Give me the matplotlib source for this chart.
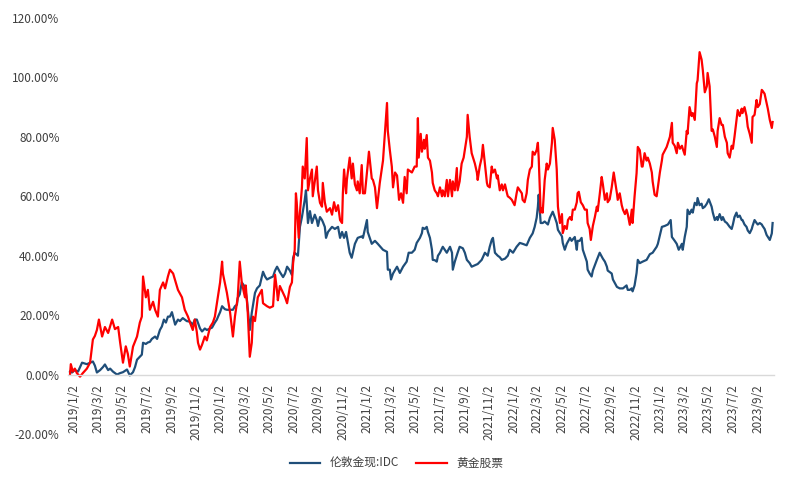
"""London gold spot vs gold equities, cumulative return since 2019/1/2."""

import matplotlib
matplotlib.use("Agg")
import matplotlib.pyplot as plt
import matplotlib.ticker as mticker
import matplotlib.transforms as mtransforms
import pandas as pd

plt.rcParams["font.family"] = ["Noto Sans CJK SC", "DejaVu Sans"]

START = pd.Timestamp("2019-01-02")

# days after START, cumulative return in %
gold_days = [
    0, 5, 12, 20, 30, 42, 57, 62, 67, 75, 82, 87, 95, 100, 107, 117, 125, 132, 142, 149,
    157, 162, 167, 174, 179, 182, 189, 194, 199, 204, 212, 217, 224, 229, 234, 239, 244, 249,
    254, 262, 269, 274, 281, 291, 299, 306, 311, 316, 324, 329, 336, 341, 349, 354, 361, 366,
    369, 374, 379, 386, 391, 399, 406, 411, 416, 418, 423, 428, 436, 441, 448, 453, 461, 466,
    473, 481, 486, 491, 498, 506, 511, 516, 523, 531, 536, 541, 548, 553, 556, 560, 568, 573,
    578, 585, 588, 593, 598, 603, 610, 615, 618, 623, 628, 630, 635, 638, 643, 653, 660, 668,
    673, 678, 683, 688, 693, 697, 702, 710, 717, 727, 730, 740, 742, 747, 752, 760, 767, 780,
    790, 792, 797, 800, 805, 815, 822, 830, 839, 844, 852, 859, 864, 872, 877, 879, 884, 889,
    892, 897, 902, 904, 909, 914, 917, 922, 929, 939, 947, 952, 954, 959, 966, 971, 979, 984,
    989, 996, 1001, 1009, 1016, 1026, 1034, 1041, 1046, 1051, 1054, 1059, 1066, 1071, 1076,
    1084, 1091, 1096, 1104, 1113, 1121, 1128, 1138, 1146, 1153, 1158, 1163, 1166, 1168, 1171,
    1173, 1178, 1183, 1191, 1196, 1203, 1208, 1213, 1216, 1221, 1226, 1228, 1233, 1238, 1246,
    1250, 1258, 1263, 1265, 1270, 1275, 1278, 1283, 1288, 1290, 1295, 1300, 1303, 1313, 1320,
    1328, 1333, 1338, 1340, 1350, 1353, 1363, 1370, 1378, 1387, 1390, 1395, 1400, 1402, 1407,
    1412, 1415, 1420, 1427, 1437, 1445, 1452, 1462, 1465, 1475, 1482, 1490, 1497, 1500, 1507,
    1512, 1517, 1525, 1527, 1532, 1537, 1539, 1544, 1549, 1552, 1557, 1562, 1564, 1569, 1574,
    1577, 1582, 1587, 1592, 1599, 1602, 1607, 1612, 1614, 1619, 1624, 1627, 1632, 1637, 1644,
    1649, 1652, 1656, 1661, 1664, 1669, 1674, 1676, 1681, 1686, 1689, 1694, 1699, 1701, 1706,
    1711, 1714, 1719, 1724, 1726, 1731, 1736, 1744, 1749, 1751,
]
gold_spot = [
    1, 0.7, 1.5, 1, 4, 3.5, 4.4, 3, 0.7, 1.5, 2.5, 3.4, 1.5, 2, 1, 0, 0.5, 0.8, 1.7, -0.3,
    0.8, 2.5, 5, 6, 6.7, 10.7, 10.3, 10.8, 11, 12, 12.8, 12, 15, 16.2, 18.5, 17.5, 19.5, 19.5,
    21, 16.8, 18.5, 18, 19, 18, 17.8, 16.8, 18.5, 18.5, 15.5, 14.5, 15.5, 15, 15.5, 15.8, 17.5, 18.5,
    19.5, 21, 23, 22, 21.8, 21.8, 21.8, 23, 23.5, 25.8, 27, 31, 29.5, 25, 15, 20.8, 27.5, 29,
    30, 34.6, 33, 32, 32.5, 33, 35, 36.3, 34.5, 32.8, 34, 36.3, 35, 33.5, 39.3, 41, 40, 49.7,
    53, 58.8, 62, 51, 55, 51, 53.8, 52, 50, 53, 52, 51.4, 49.7, 46, 48, 49.7, 49, 49.7,
    46, 48, 46, 48, 44, 41, 39.3, 44, 46, 46.5, 46, 52, 48, 46, 44, 45, 44, 42,
    41.3, 35.3, 35.3, 32, 34, 36.3, 34.2, 36.3, 38, 41, 41, 42, 44.3, 46, 47.6, 49.4, 49, 49.7,
    48, 46, 42, 38.6, 38.5, 38, 40, 41, 43, 41, 43, 41, 35.3, 38, 41, 43, 42.5, 41,
    38.6, 37.5, 36.3, 36.8, 37.2, 38.6, 41, 40, 43, 45.3, 46, 41, 40, 39.5, 38.6,
    39, 40, 42, 41, 43, 44.3, 44, 43.5, 46, 47.5, 49.7, 52.8, 56.5, 60.5, 55,
    51, 51, 51.5, 50.5, 52.8, 54.8, 53, 51, 48.7, 47.6, 46.5, 44.3, 42, 44, 46,
    45, 46.3, 42, 45, 45, 46, 42, 40, 38, 35.3, 34, 33, 35, 38.6, 41,
    39, 38, 36.3, 35, 34, 32, 29.5, 29, 29, 30, 28.5, 28.5, 29, 28, 30,
    34.2, 38.6, 37.5, 38, 38.6, 40.5, 41, 43, 44, 49.7, 50, 50.5, 52, 46.3, 45,
    44, 42, 44, 42, 46.3, 49.7, 55.5, 54, 55.5, 54.5, 57.8, 57, 59.4, 57, 57.5,
    56, 56.5, 57.5, 59, 56.5, 54.5, 52, 53, 52, 54, 52, 53, 51.5, 51, 49.7,
    49, 50.5, 53, 54.5, 53, 53.5, 52, 52, 50.5, 49.7, 48.5, 47.6, 49, 50, 52,
    51, 50.5, 51, 50.5, 50, 49, 47, 45.3, 47.5, 51,
]

stock_days = [
    0, 2, 7, 12, 17, 25, 32, 42, 50, 57, 62, 67, 72, 80, 87, 95, 105, 112, 120, 125,
    130, 132, 139, 144, 149, 157, 167, 174, 179, 182, 189, 194, 199, 207, 212, 219, 224, 232,
    237, 244, 249, 257, 262, 269, 279, 286, 294, 299, 306, 311, 316, 319, 324, 329, 336, 341,
    349, 356, 361, 366, 374, 379, 381, 391, 399, 406, 411, 418, 423, 428, 436, 438, 443, 448,
    453, 456, 461, 468, 478, 481, 491, 498, 506, 511, 516, 518, 523, 531, 536, 541, 548, 553,
    556, 560, 563, 565, 570, 573, 578, 580, 585, 590, 593, 598, 603, 605, 615, 618, 623, 628,
    630, 635, 640, 648, 653, 658, 663, 668, 673, 678, 680, 683, 688, 690, 697, 702, 705, 710,
    715, 717, 722, 727, 730, 735, 740, 745, 752, 755, 760, 765, 772, 780, 790, 792, 797, 802,
    805, 810, 815, 820, 825, 830, 834, 839, 842, 852, 859, 864, 867, 869, 874, 877, 882, 884,
    889, 892, 897, 902, 904, 909, 914, 917, 922, 927, 929, 934, 939, 942, 947, 952, 954, 959,
    964, 966, 971, 976, 981, 989, 991, 996, 1001, 1009, 1014, 1016, 1021, 1026, 1029, 1034,
    1039, 1041, 1046, 1051, 1054, 1059, 1064, 1066, 1071, 1076, 1079, 1084, 1089, 1091, 1096,
    1101, 1104, 1108, 1113, 1116, 1121, 1126, 1128, 1133, 1138, 1141, 1146, 1151, 1153, 1158,
    1163, 1166, 1168, 1173, 1176, 1178, 1183, 1188, 1191, 1196, 1201, 1203, 1208, 1213, 1216,
    1221, 1226, 1228, 1233, 1238, 1241, 1246, 1250, 1253, 1258, 1263, 1265, 1268, 1273, 1278,
    1283, 1288, 1290, 1295, 1298, 1303, 1308, 1313, 1315, 1320, 1325, 1328, 1333, 1338, 1340,
    1345, 1350, 1355, 1363, 1365, 1370, 1375, 1378, 1383, 1387, 1390, 1395, 1400, 1402, 1407,
    1412, 1415, 1420, 1425, 1427, 1432, 1437, 1440, 1445, 1450, 1452, 1457, 1462, 1465, 1470,
    1475, 1477, 1487, 1495, 1500, 1502, 1507, 1512, 1515, 1520, 1525, 1527, 1532, 1537, 1539,
    1544, 1549, 1552, 1557, 1562, 1564, 1569, 1574, 1577, 1582, 1587, 1589, 1594, 1599, 1602,
    1607, 1612, 1614, 1619, 1624, 1627, 1632, 1637, 1639, 1644, 1649, 1652, 1656, 1661, 1664,
    1669, 1674, 1676, 1681, 1686, 1689, 1694, 1699, 1701, 1706, 1711, 1714, 1719, 1724, 1726,
    1731, 1736, 1739, 1744, 1749, 1751,
]
gold_stocks = [
    0, 3.5, 1, 2, 0.5, -0.7, 0.5, 2, 4, 11.8, 13, 15, 18.5, 12.8, 16, 14, 18.5, 15.3, 16, 10.7,
    6, 4, 9.5, 7, 2.7, 9.4, 12.8, 17.5, 19.5, 33, 26, 28.5, 21.8, 24.5, 21.8, 19.5, 28.5, 31,
    29, 33, 35.3, 34, 31.7, 28.5, 26, 21.8, 19.5, 17.5, 15, 18.5, 14.3, 10.7, 8.4, 10, 12.8, 11.5,
    16, 17.5, 19.5, 24, 31, 38, 34, 27.5, 20.8, 12.8, 19.5, 26, 38, 31, 26, 30, 20.8, 6,
    10.7, 19.5, 18, 26, 28.5, 24, 23, 22.5, 23, 33.6, 28, 25, 29.8, 27.5, 26, 24, 29.5, 31,
    37.5, 42, 61, 58, 46, 54.5, 63, 70, 66, 79.6, 62, 66, 69, 60, 70, 62, 57.8, 56.5,
    64.5, 58, 54.8, 56, 53.8, 58, 55, 57, 52, 51, 61, 69, 61, 65.5, 73, 66, 71, 64,
    62, 65, 61, 70.5, 61, 61, 68, 75, 66, 65.5, 63, 56, 64.5, 72, 91.4, 82, 75.6, 70,
    63, 68, 67, 58.8, 61, 57.8, 66.5, 61, 69, 68, 70, 70, 86.3, 73, 81, 75, 79, 76,
    80.6, 73, 72, 68, 64.5, 62, 61, 60, 63, 60, 62, 60, 65.5, 60, 65.5, 60, 65, 62,
    69.5, 62, 65, 71, 73, 80, 87.4, 80, 74.5, 71, 68, 65.5, 70, 73, 77.3, 71,
    64.5, 63.5, 63, 70, 68, 69, 66, 67, 62, 64, 62, 64, 61, 60, 59.5,
    58.8, 58, 57, 61, 63, 62, 61, 58.8, 58, 61, 65.5, 69, 70, 75, 74,
    75.6, 78, 73, 54.5, 56, 54.5, 65.5, 71, 69, 71, 78, 83, 79, 69, 56.5,
    51, 54, 47.6, 50, 49, 52, 53, 52, 55.5, 55.5, 58, 61, 61.5, 58, 57,
    55.5, 55.5, 51, 49, 45.3, 50, 53, 56.5, 55, 60.5, 66.5, 64, 58.8, 61, 58,
    59, 63, 68, 61, 58.8, 61, 57, 55.5, 54, 55.5, 54, 50.4, 55.5, 51, 60,
    67.8, 76.6, 75.5, 70, 70, 74.5, 72, 73, 71, 68, 65, 60.5, 60, 63, 68,
    72, 74, 76.6, 80, 84.7, 78, 77, 74.5, 78, 76, 77, 76, 74, 82, 81,
    90, 87, 88, 85.7, 98, 99, 108.5, 106, 102.5, 95, 97, 101.5, 97, 82, 82.5,
    80, 76.6, 82, 86.3, 84, 84, 80, 78, 74.5, 73, 77, 76, 80, 85.7, 89,
    87, 89.5, 88, 90, 87, 83.4, 81, 78, 86.7, 87.4, 92.4, 90, 91, 95.8, 95.5,
    94.5, 91.4, 89.5, 85.7, 83, 85,
]

series_names = ["伦敦金现:IDC", "黄金股票"]
y_ticks = [-20, 0, 20, 40, 60, 80, 100, 120]
x_tick_dates = pd.date_range("2019-01-02", "2023-09-02", freq=pd.DateOffset(months=2))

gold_dates = START + pd.to_timedelta(gold_days, unit="D")
stock_dates = START + pd.to_timedelta(stock_days, unit="D")

fig = plt.figure(figsize=(7.88, 4.82), dpi=100)
ax = fig.add_axes([0.0863, 0.0996, 0.8957, 0.8631])

ax.plot(gold_dates, gold_spot, color="#1F4E79", lw=1.6, label=series_names[0])
ax.plot(stock_dates, gold_stocks, color="#FF0000", lw=1.6, label=series_names[1])

for side in ("top", "right", "left"):
    ax.spines[side].set_visible(False)
# moving the spine resets the tick labels, so do it before styling them
ax.spines["bottom"].set_position(("data", 0))
ax.spines["bottom"].set_color("#D9D9D9")
ax.spines["bottom"].set_linewidth(1.0)

ax.set_ylim(-20, 120)
ax.set_yticks(y_ticks)
ax.yaxis.set_major_formatter(mticker.FuncFormatter(lambda v, _: f"{v:.2f}%"))
ax.set_xlim(START - pd.Timedelta(days=5), START + pd.Timedelta(days=1754))
ax.set_xticks(x_tick_dates)
ax.set_xticklabels([f"{d.year}/{d.month}/{d.day}" for d in x_tick_dates])

ax.tick_params(axis="both", length=0, labelsize=8.5, labelcolor="#404040")
ax.tick_params(axis="x", pad=7, labelrotation=90)
ax.tick_params(axis="y", pad=6)

# Excel draws the date labels a few pixels right of the tick position
shift = mtransforms.ScaledTranslation(4 / 100, 0, fig.dpi_scale_trans)
for lbl in ax.get_xticklabels():
    lbl.set_transform(lbl.get_transform() + shift)

fig.legend(loc="center", bbox_to_anchor=(0.503, 0.039), ncol=2, frameon=False,
           fontsize=8.5, handlelength=2.6, columnspacing=1.4, labelcolor="#404040")

fig.savefig("out.png", dpi=100)
